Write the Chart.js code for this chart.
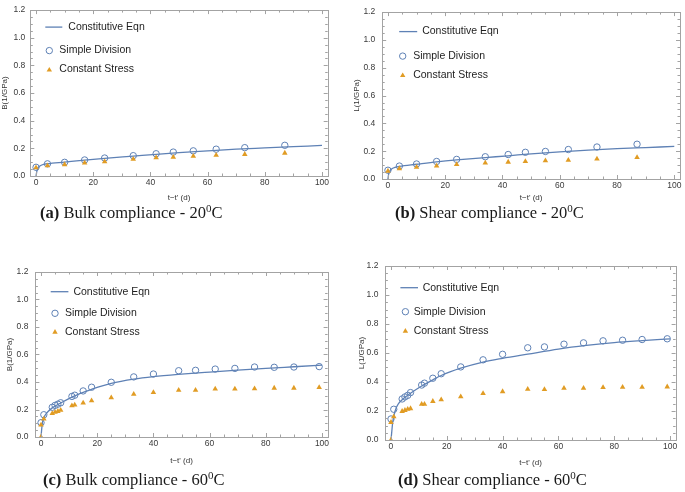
<!DOCTYPE html>
<html>
<head>
<meta charset="utf-8">
<script src="https://cdn.jsdelivr.net/npm/chart.js@4.4.1/dist/chart.umd.min.js"></script>
<style>
  body { margin: 0; background: #fff; width: 685px; height: 492px; position: relative; overflow: hidden; }
  .pane { position: absolute; }
  .cap { position: absolute; font-family: "Liberation Serif", "Times New Roman", serif; font-size: 16.5px; color: #1a1a1a; white-space: nowrap; }
  .cap b { font-weight: bold; }
  .cap sup { font-size: 11px; vertical-align: 6px; line-height: 0; }
</style>
</head>
<body>
<div class="pane" style="left:0;top:0;width:342px;height:205px"><canvas id="chartA"></canvas></div>
<div class="pane" style="left:342px;top:0;width:343px;height:205px"><canvas id="chartB"></canvas></div>
<div class="pane" style="left:0;top:240px;width:342px;height:232px"><canvas id="chartC"></canvas></div>
<div class="pane" style="left:342px;top:240px;width:343px;height:232px"><canvas id="chartD"></canvas></div>

<div class="cap" style="left:40px;top:203px"><b>(a)</b> Bulk compliance - 20<sup>0</sup>C</div>
<div class="cap" style="left:395px;top:203px"><b>(b)</b> Shear compliance - 20<sup>0</sup>C</div>
<div class="cap" style="left:43px;top:470px"><b>(c)</b> Bulk compliance - 60<sup>0</sup>C</div>
<div class="cap" style="left:398px;top:470px"><b>(d)</b> Shear compliance - 60<sup>0</sup>C</div>

<script>
const seriesLabels = ["Constitutive Eqn", "Simple Division", "Constant Stress"];
const xTitle = "t\u2212t' (d)";
const xTicks = [0, 20, 40, 60, 80, 100];
const yTicks = [0, 0.2, 0.4, 0.6, 0.8, 1.0, 1.2];

// (a) bulk compliance 20C
const daysA = [0, 4, 10, 17, 24, 34, 42, 48, 55, 63, 73, 87];
const simpleA = [0.063, 0.088, 0.099, 0.116, 0.130, 0.147, 0.161, 0.173, 0.182, 0.194, 0.205, 0.222];
const stressA = [0.060, 0.074, 0.083, 0.094, 0.104, 0.121, 0.133, 0.136, 0.143, 0.150, 0.157, 0.166];
const curveDaysA = [0, 0.3, 0.7, 1.5, 3, 4, 10, 17, 24, 34, 42, 50, 60, 70, 80, 90, 100];
const curveA = [0, 0.035, 0.058, 0.074, 0.085, 0.089, 0.101, 0.115, 0.128, 0.144, 0.157, 0.169, 0.182, 0.194, 0.203, 0.212, 0.221];

// (b) shear compliance 20C
const daysB = [0, 4, 10, 17, 24, 34, 42, 48, 55, 63, 73, 87];
const simpleB = [0.063, 0.093, 0.108, 0.126, 0.141, 0.160, 0.176, 0.192, 0.198, 0.212, 0.230, 0.250];
const stressB = [0.057, 0.075, 0.085, 0.094, 0.105, 0.116, 0.122, 0.127, 0.132, 0.136, 0.145, 0.155];
const curveDaysB = [0, 0.3, 0.8, 1.5, 2.5, 4, 10, 17, 24, 34, 42, 50, 60, 70, 80, 90, 100];
const curveB = [0, 0.040, 0.062, 0.075, 0.084, 0.091, 0.106, 0.123, 0.137, 0.154, 0.167, 0.181, 0.195, 0.207, 0.218, 0.226, 0.234];

// (c) bulk compliance 60C
const daysC = [0, 1, 4, 5, 6, 7, 11, 12, 15, 18, 25, 33, 40, 49, 55, 62, 69, 76, 83, 90, 99];
const simpleC = [0.104, 0.162, 0.216, 0.230, 0.239, 0.249, 0.295, 0.304, 0.335, 0.362, 0.398, 0.437, 0.458, 0.482, 0.485, 0.494, 0.499, 0.509, 0.507, 0.509, 0.512];
const stressDaysC = [0, 0, 1, 4, 5, 6, 7, 11, 12, 15, 18, 25, 33, 40, 49, 55, 62, 69, 76, 83, 90, 99];
const stressC = [0, 0.088, 0.132, 0.172, 0.181, 0.187, 0.195, 0.228, 0.233, 0.248, 0.264, 0.286, 0.312, 0.324, 0.341, 0.340, 0.349, 0.349, 0.352, 0.356, 0.356, 0.361];
const curveDaysC = [0, 0.3, 0.7, 1.5, 2.5, 4, 7, 11, 14, 18, 25, 33, 40, 50, 60, 70, 80, 90, 100];
const curveC = [0, 0.070, 0.124, 0.160, 0.185, 0.212, 0.247, 0.290, 0.318, 0.347, 0.390, 0.421, 0.439, 0.457, 0.472, 0.486, 0.499, 0.511, 0.523];

// (d) shear compliance 60C
const daysD = [0, 1, 4, 5, 6, 7, 11, 12, 15, 18, 25, 33, 40, 49, 55, 62, 69, 76, 83, 90, 99];
const simpleD = [0.145, 0.212, 0.283, 0.297, 0.308, 0.327, 0.379, 0.392, 0.426, 0.457, 0.504, 0.553, 0.591, 0.636, 0.642, 0.661, 0.670, 0.684, 0.688, 0.693, 0.698];
const stressDaysD = [0, 0, 1, 4, 5, 6, 7, 11, 12, 15, 18, 25, 33, 40, 49, 55, 62, 69, 76, 83, 90, 99];
const stressD = [0, 0.122, 0.161, 0.198, 0.205, 0.212, 0.217, 0.247, 0.247, 0.267, 0.278, 0.299, 0.321, 0.334, 0.351, 0.349, 0.358, 0.358, 0.363, 0.365, 0.365, 0.367];
const curveDaysD = [0, 0.3, 0.6, 1, 2, 4, 7, 11, 15, 18, 25, 33, 40, 49, 60, 70, 80, 90, 100];
const curveD = [0, 0.060, 0.120, 0.165, 0.228, 0.278, 0.322, 0.372, 0.415, 0.445, 0.495, 0.537, 0.563, 0.592, 0.627, 0.652, 0.672, 0.686, 0.698];

const blue = '#5E81B5';
const orange = '#E19C24';
const frameGray = '#a3a3a3';
const sans = '"Liberation Sans", Arial, sans-serif';

const points = (xs, ys) => xs.map((v, i) => ({ x: v, y: ys[i] }));

// frame with inward major/minor ticks on all four sides
const framePlugin = {
  id: 'frame',
  afterDatasetsDraw(chart) {
    const { ctx, chartArea: a, scales: { x, y } } = chart;
    const px = v => Math.round(v) + 0.5;
    ctx.save();
    ctx.strokeStyle = frameGray;
    ctx.lineWidth = 1;
    ctx.strokeRect(px(a.left), px(a.top), Math.round(a.right) - Math.round(a.left), Math.round(a.bottom) - Math.round(a.top));
    ctx.beginPath();
    for (let v = 0; v <= 100; v += 5) {
      const len = v % 20 === 0 ? 4 : 2.5;
      const X = px(x.getPixelForValue(v));
      ctx.moveTo(X, a.bottom); ctx.lineTo(X, a.bottom - len);
      ctx.moveTo(X, a.top); ctx.lineTo(X, a.top + len);
    }
    for (let k = 0; k <= 24; k++) {
      const len = k % 4 === 0 ? 4 : 2.5;
      const Y = px(y.getPixelForValue(k * 0.05));
      ctx.moveTo(a.left, Y); ctx.lineTo(a.left + len, Y);
      ctx.moveTo(a.right, Y); ctx.lineTo(a.right - len, Y);
    }
    ctx.stroke();
    ctx.restore();
  }
};

// legend drawn inside the plot frame, top-left
const insideLegend = {
  id: 'insideLegend',
  afterDraw(chart, args, o) {
    const { ctx, chartArea: a } = chart;
    ctx.save();
    ctx.font = '10.5px ' + sans;
    ctx.fillStyle = '#1e1e1e';
    ctx.textBaseline = 'middle';
    let y = a.top + o.rows[0];
    ctx.strokeStyle = blue;
    ctx.lineWidth = 1.3;
    ctx.beginPath();
    ctx.moveTo(a.left + o.line[0], y); ctx.lineTo(a.left + o.line[1], y);
    ctx.stroke();
    ctx.fillText(seriesLabels[0], a.left + o.text[0], y);

    y = a.top + o.rows[1];
    ctx.lineWidth = 1;
    ctx.beginPath();
    ctx.arc(a.left + o.marker, y, 3.2, 0, Math.PI * 2);
    ctx.stroke();
    ctx.fillText(seriesLabels[1], a.left + o.text[1], y);

    y = a.top + o.rows[2];
    const mx = a.left + o.marker;
    ctx.fillStyle = orange;
    ctx.beginPath();
    ctx.moveTo(mx, y - 2.6); ctx.lineTo(mx + 2.7, y + 2); ctx.lineTo(mx - 2.7, y + 2);
    ctx.closePath();
    ctx.fill();
    ctx.fillStyle = '#1e1e1e';
    ctx.fillText(seriesLabels[2], a.left + o.text[1], y);
    ctx.restore();
  }
};

function makePanel(id, p) {
  return new Chart(document.getElementById(id), {
    type: 'scatter',
    data: {
      datasets: [
        {
          label: seriesLabels[0], type: 'line', order: 3,
          data: points(p.curveDays, p.curve),
          borderColor: blue, borderWidth: 1.3, pointRadius: 0,
          cubicInterpolationMode: 'monotone', fill: false
        },
        {
          label: seriesLabels[1], order: 2,
          data: points(p.days, p.simple),
          pointStyle: 'circle', pointRadius: 3.2, borderWidth: 1,
          borderColor: blue, backgroundColor: 'rgba(0,0,0,0)'
        },
        {
          label: seriesLabels[2], order: 1,
          data: points(p.stressDays, p.stress),
          pointStyle: 'triangle', pointRadius: 3.2, borderWidth: 0,
          borderColor: orange, backgroundColor: orange
        }
      ]
    },
    options: {
      responsive: true,
      maintainAspectRatio: false,
      animation: false,
      layout: { padding: { left: 0, right: p.padRight, top: p.padTop, bottom: 0 } },
      plugins: {
        legend: { display: false },
        tooltip: { enabled: false },
        insideLegend: p.legend
      },
      scales: {
        x: {
          type: 'linear', min: -2, max: 102,
          grid: { display: false, drawTicks: false }, border: { display: false },
          afterBuildTicks: s => { s.ticks = xTicks.map(v => ({ value: v })); },
          afterFit: s => { s.height = p.xAxisH; },
          ticks: { font: { size: 8.5, family: sans }, color: '#3a3a3a', padding: 2, maxRotation: 0, autoSkip: false },
          title: { display: true, text: xTitle, font: { size: 8, family: sans }, color: '#333', padding: { top: 0, bottom: p.xTitlePad } }
        },
        y: {
          type: 'linear', min: 0, max: 1.2,
          grid: { display: false, drawTicks: false }, border: { display: false },
          afterBuildTicks: s => { s.ticks = yTicks.map(v => ({ value: v })); },
          afterFit: s => { s.width = p.yAxisW; },
          ticks: { font: { size: 8.5, family: sans }, color: '#3a3a3a', padding: p.yTickPad, callback: v => v.toFixed(1) },
          title: { display: true, text: p.yTitle, font: { size: 8, family: sans }, color: '#333', padding: { top: p.yTitlePad, bottom: 0 } }
        }
      }
    },
    plugins: [framePlugin, insideLegend]
  });
}

makePanel('chartA', {
  days: daysA, simple: simpleA, stressDays: daysA, stress: stressA, curveDays: curveDaysA, curve: curveA,
  yTitle: 'B(1/GPa)', padRight: 14.3, padTop: 4.5, xAxisH: 29, yAxisW: 30.3,
  xTitlePad: 2.2, yTitlePad: 0.2, yTickPad: 5,
  legend: { line: [15, 32], text: [38, 29], marker: 19, rows: [17, 40.5, 59.5] }
});
makePanel('chartB', {
  days: daysB, simple: simpleB, stressDays: daysB, stress: stressB, curveDays: curveDaysB, curve: curveB,
  yTitle: 'L(1/GPa)', padRight: 3.3, padTop: 6.5, xAxisH: 26, yAxisW: 40.2,
  xTitlePad: 2, yTitlePad: 10.2, yTickPad: 7,
  legend: { line: [17, 35], text: [40, 31], marker: 20.5, rows: [19.5, 44, 63] }
});
makePanel('chartC', {
  days: daysC, simple: simpleC, stressDays: stressDaysC, stress: stressC, curveDays: curveDaysC, curve: curveC,
  yTitle: 'B(1/GPa)', padRight: 14.4, padTop: 32, xAxisH: 35, yAxisW: 35.4,
  xTitlePad: 6.2, yTitlePad: 5.2, yTickPad: 7,
  legend: { line: [15.3, 33], text: [38, 29.6], marker: 19.6, rows: [19.7, 41.3, 59.7] }
});
makePanel('chartD', {
  days: daysD, simple: simpleD, stressDays: stressDaysD, stress: stressD, curveDays: curveDaysD, curve: curveD,
  yTitle: 'L(1/GPa)', padRight: 9.4, padTop: 26, xAxisH: 32, yAxisW: 43.4,
  xTitlePad: 4.2, yTitlePad: 15.2, yTickPad: 7,
  legend: { line: [15, 32.6], text: [37.3, 28.3], marker: 20, rows: [21.7, 45.7, 64.7] }
});
</script>
</body>
</html>
